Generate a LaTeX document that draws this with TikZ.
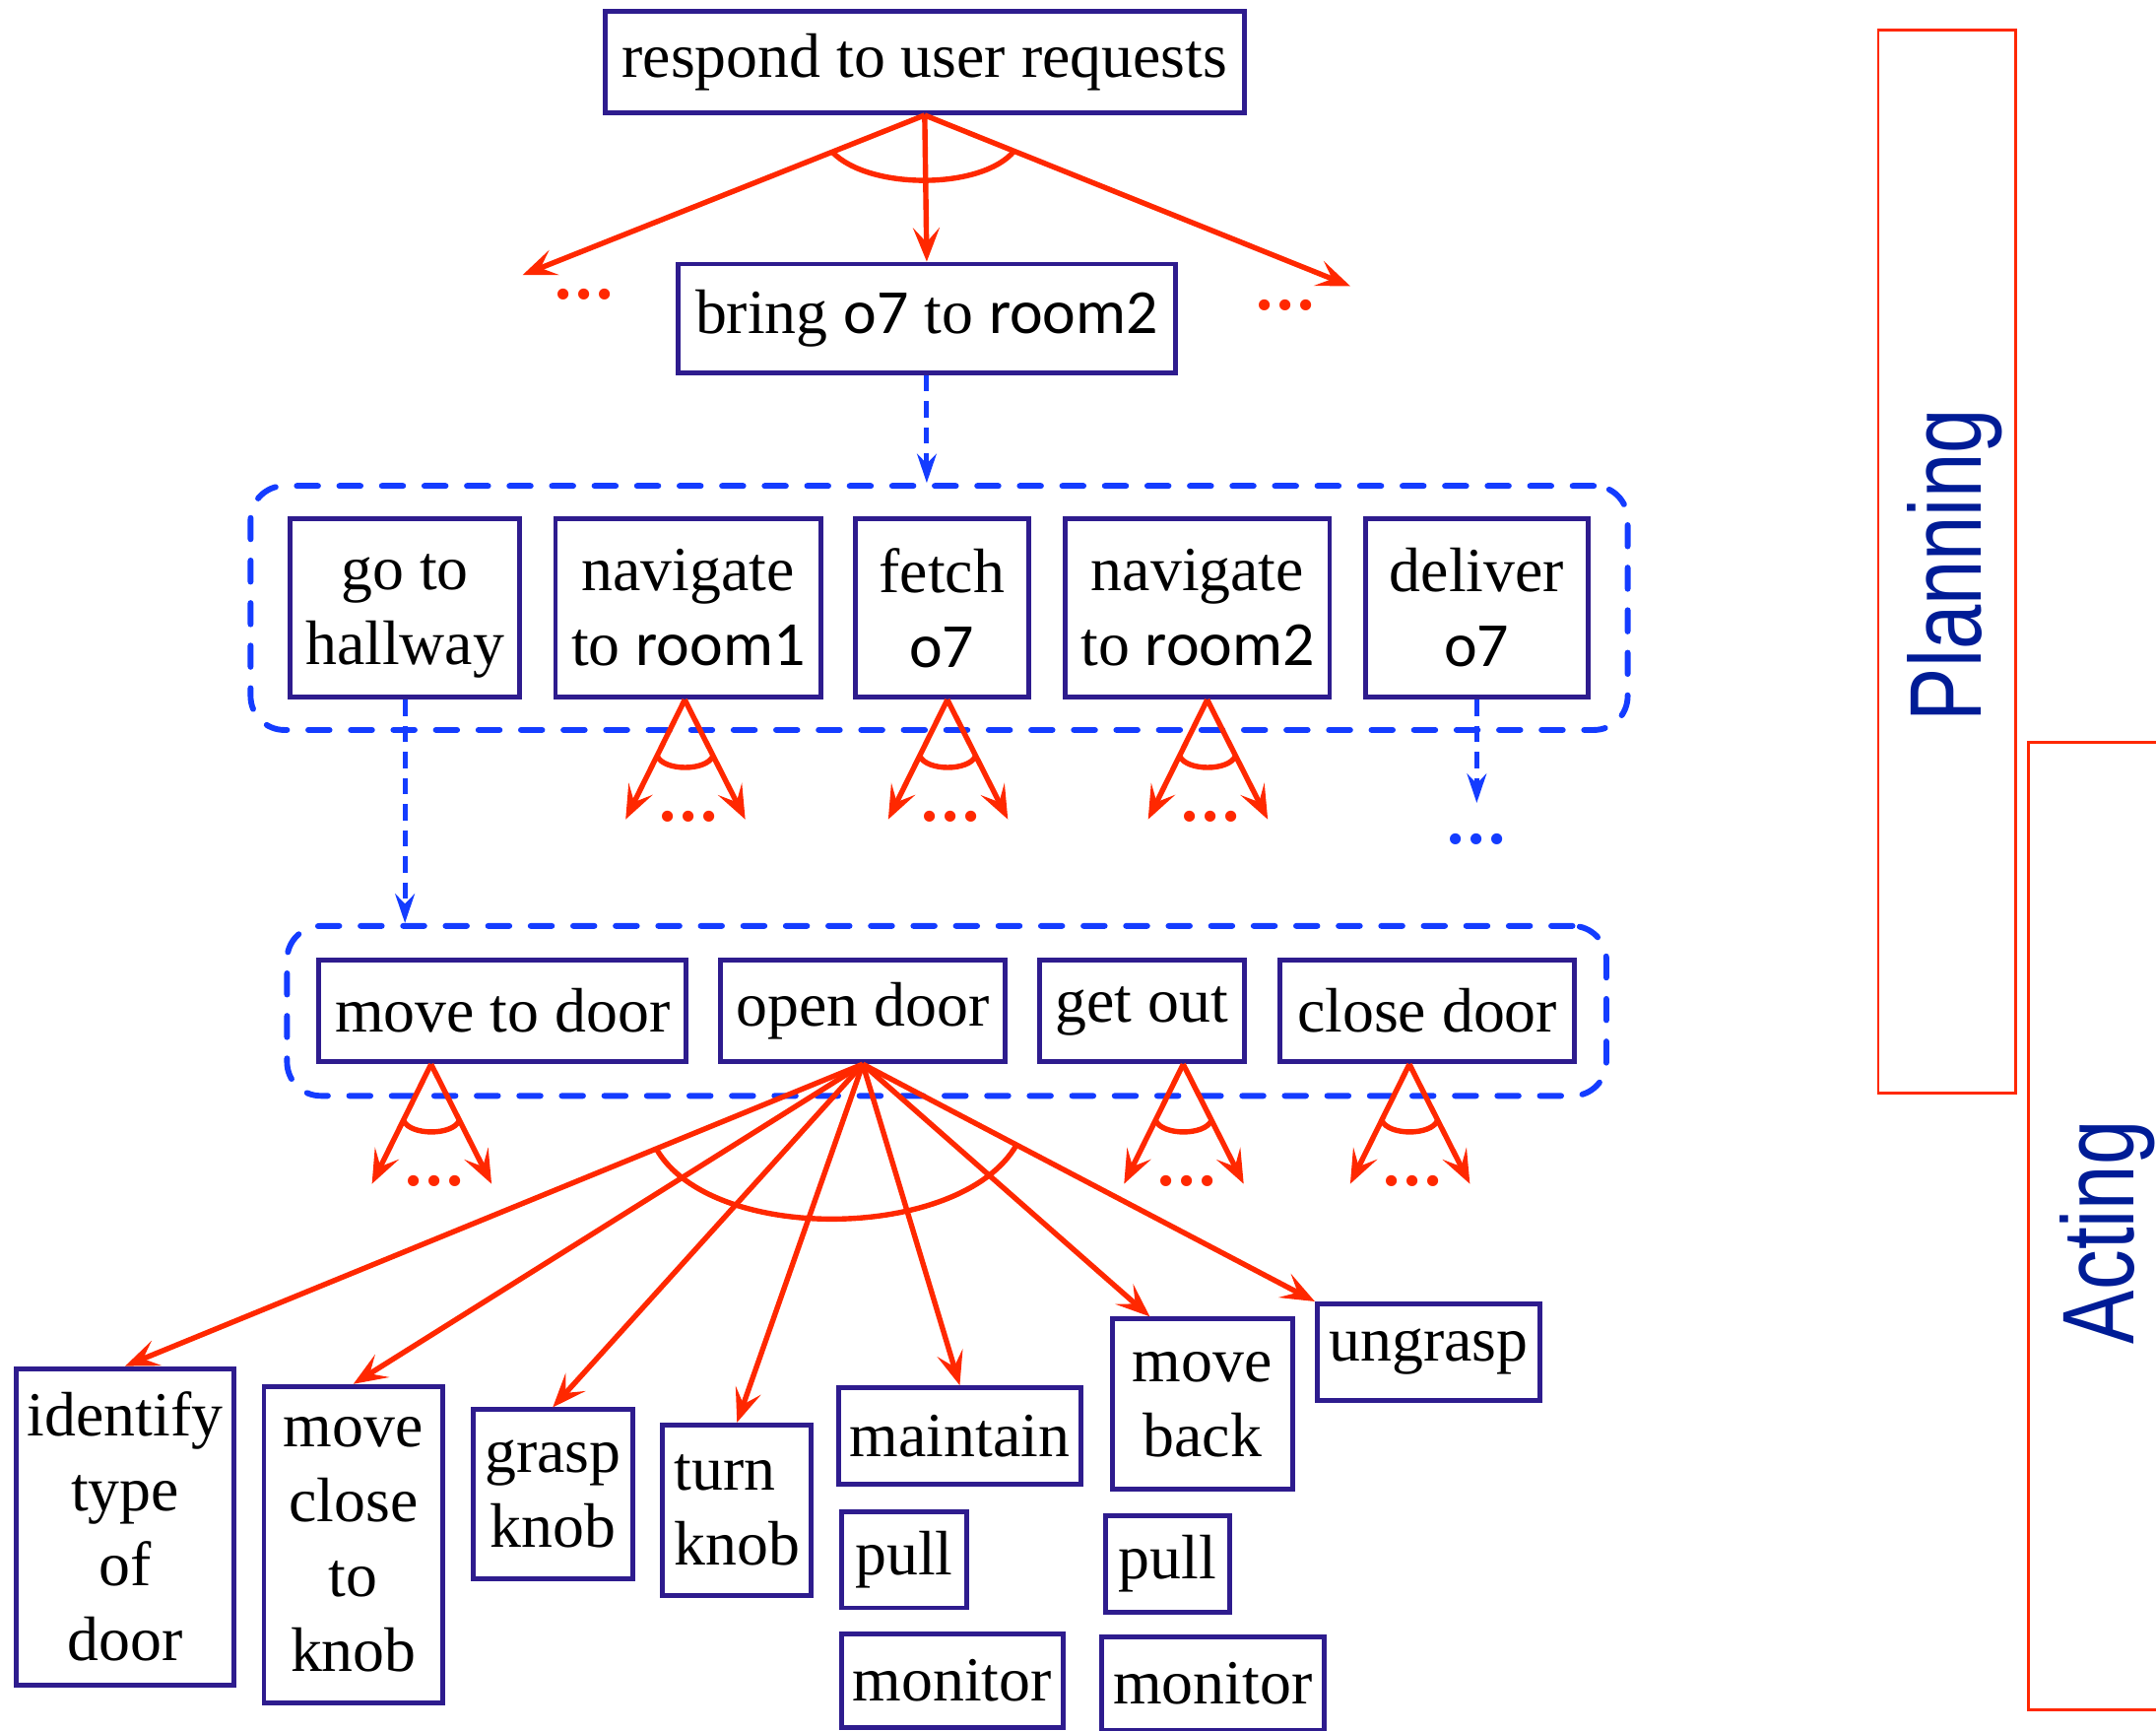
\documentclass[tikz,border=0pt]{standalone}
\usepackage{fontspec}
\setmainfont{Liberation Serif}
\newfontfamily\objfont{Carlito}
\newfontfamily\sidefont{Liberation Sans}
\usetikzlibrary{arrows.meta, calc, fit, positioning}

\definecolor{taskblue}{RGB}{46,28,142}
\definecolor{andred}{RGB}{255,40,0}
\definecolor{refblue}{RGB}{20,60,255}
\definecolor{sideblue}{RGB}{0,28,150}

\newcommand{\moredots}{.\kern0.8pt.\kern0.8pt.}

\tikzset{
  task/.style={draw=taskblue, line width=1pt, fill=white, align=center, inner sep=0pt,
    font=\fontsize{13}{15.5}\selectfont},
  andarrow/.style={draw=andred, line width=1.1pt, -{Stealth[length=7pt,width=5.5pt,inset=3pt]}},
  andarc/.style={draw=andred, line width=1.1pt},
  reddots/.style={text=andred, inner sep=0pt, font=\fontsize{14}{15}\selectfont\bfseries},
  bluedots/.style={text=refblue, inner sep=0pt, font=\fontsize{14}{15}\selectfont\bfseries},
  refine/.style={draw=refblue, line width=1pt, dash pattern=on 3.4pt off 2pt,
    -{Stealth[length=6pt,width=4pt,inset=2pt]}},
  methodgroup/.style={draw=refblue, line width=1.2pt, line cap=round, dash pattern=on 4.4pt off 4.4pt,
    rounded corners=7pt},
  sidebox/.style={draw=andred, line width=0.6pt},
  sidelabel/.style={text=sideblue, inner sep=0pt, font=\sidefont\fontsize{16.6}{18}\selectfont,
    rotate=90, yscale=1.27},
}

\begin{document}
\begin{tikzpicture}[x=0.1mm, y=-0.1mm]
\useasboundingbox (0,0) rectangle (1568,1258);

% tasks
\node[task, minimum width=46.5mm, minimum height=7.4mm] (respond) at (672.5,45) {respond to user requests};
\node[task, minimum width=36.2mm, minimum height=7.9mm] (bring) at (674,231.5) {bring {\objfont o7} to {\objfont room2}};

\node[task, minimum width=16.7mm, minimum height=13mm] (hallway) at (294.5,442) {go to\strut\\hallway};
\node[task, minimum width=19.3mm, minimum height=13mm] (nav1) at (500.5,442) {navigate\\to {\objfont room1}};
\node[task, minimum width=12.6mm, minimum height=13mm] (fetch) at (685,442) {fetch\\{\objfont o7}};
\node[task, minimum width=19.2mm, minimum height=13mm] (nav2) at (871,442) {navigate\\to {\objfont room2}};
\node[task, minimum width=16.2mm, minimum height=13mm] (deliver) at (1074,442) {deliver\\{\objfont o7}};

\node[task, minimum width=26.7mm, minimum height=7.4mm] (movedoor) at (365.5,735) {move to door};
\node[task, minimum width=20.7mm, minimum height=7.4mm] (opendoor) at (627.5,735) {open door};
\node[task, minimum width=14.9mm, minimum height=7.4mm] (getout) at (830.5,735) {get out};
\node[task, minimum width=21.4mm, minimum height=7.4mm] (closedoor) at (1038,735) {close door};

\node[task, minimum width=15.8mm, minimum height=23mm] (identify) at (91,1110) {identify\\type\\of\\door};
\node[task, minimum width=13mm, minimum height=23mm] (moveclose) at (257,1123) {move\\close\\to\\knob};
\node[task, minimum width=11.6mm, minimum height=12.3mm] (grasp) at (402,1086.5) {grasp\\knob};
\node[task, minimum width=10.8mm, minimum height=12.4mm, align=left] (turn) at (536,1098) {turn\\knob};
\node[task, minimum width=17.6mm, minimum height=7mm] (maintain) at (698,1044) {maintain};
\node[task, minimum width=9.1mm, minimum height=7mm] (pull1) at (657.5,1134) {pull};
\node[task, minimum width=16.1mm, minimum height=6.8mm] (monitor1) at (692.5,1222) {monitor};
\node[task, minimum width=13.1mm, minimum height=12.4mm] (moveback) at (874.5,1021) {move\\back};
\node[task, minimum width=9mm, minimum height=7mm] (pull2) at (849,1137) {pull};
\node[task, minimum width=16.2mm, minimum height=6.8mm] (monitor2) at (882,1224) {monitor};
\node[task, minimum width=16.2mm, minimum height=7mm] (ungrasp) at (1039,983) {ungrasp};

% method groups
\node[methodgroup, fit=(hallway)(deliver), inner xsep=2.7mm, inner ysep=2.2mm] (navplan) {};
\node[methodgroup, fit=(movedoor)(closedoor), inner xsep=2.15mm, inner ysep=2.3mm] (doorplan) {};

% top level
\coordinate (leftmore) at (380,200);
\coordinate (rightmore) at (982,208);
\draw[andarrow] (respond.south) -- (bring.north);
\draw[andarrow] (respond.south) -- (leftmore);
\draw[andarrow] (respond.south) -- (rightmore);
\draw[andarc] ($(respond.south)!.23!(leftmore)$) .. controls +(27,28) and +(-23,28) .. ($(respond.south)!.21!(rightmore)$);
\node[reddots] (leftdots) at (425,214) {\moredots};
\node[reddots] (rightdots) at (935,222) {\moredots};

% refinements
\draw[refine] (bring.south) -- (bring.south |- navplan.north);
\draw[refine] (hallway.south) -- (hallway.south |- doorplan.north);
\coordinate (deliverend) at ($(deliver.south)+(0,75)$);
\draw[refine] (deliver.south) -- (deliverend);
\node[bluedots] (deliverdots) at (1074,610) {\moredots};

% small and-fans
\coordinate (nav1fan) at ($(nav1.south)+(-2.5,0)$);
\coordinate (fetchfan) at ($(fetch.south)+(4,0)$);
\coordinate (nav2fan) at ($(nav2.south)+(7,0)$);
\coordinate (movedoorfan) at ($(movedoor.south)+(-52,0)$);
\coordinate (getoutfan) at ($(getout.south)+(30,0)$);
\coordinate (closedoorfan) at ($(closedoor.south)+(-13,0)$);
\foreach \a in {nav1fan,fetchfan,nav2fan,movedoorfan,getoutfan,closedoorfan} {
  \draw[andarrow] (\a) -- ($(\a)+(-43,87)$);
  \draw[andarrow] (\a) -- ($(\a)+(44,87)$);
  \draw[andarc] ($(\a)+(-20,41)$) .. controls +(5,11) and +(-5,11) .. ($(\a)+(20.5,41)$);
  \node[reddots] (\a dots) at ($(\a)+(2.5,85)$) {\moredots};
}

% open door
\coordinate (movebackend) at ($(moveback.north west)+(29,0)$);
\foreach \t in {identify.north,moveclose.north,grasp.north,turn.north,maintain.north,movebackend,ungrasp.north west}
  \draw[andarrow] (opendoor.south) -- (\t);
\draw[andarc] ($(opendoor.south)!.28!(identify.north)$) .. controls +(40,70) and +(-40,70) .. ($(opendoor.south)!.34!(ungrasp.north west)$);

% planning / acting
\draw[sidebox] (1366,22) rectangle (1466,795);
\node[sidelabel] (planning) at (1422,411) {Planning};
\draw[sidebox] (1568,540) -| (1475,1243) -- (1568,1243);
\node[sidelabel] (acting) at (1533,896) {Acting};
\end{tikzpicture}
\end{document}
